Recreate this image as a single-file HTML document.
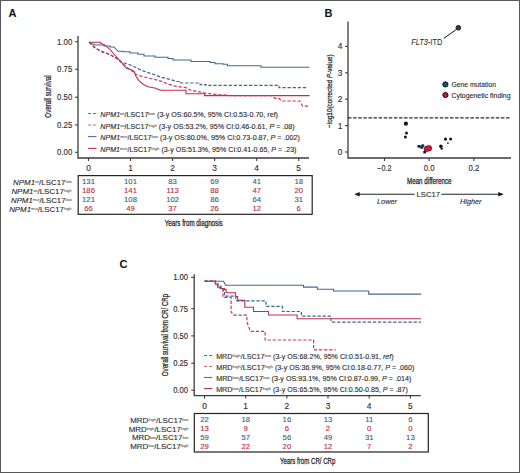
<!DOCTYPE html><html><head><meta charset="utf-8"><style>html,body{margin:0;padding:0;background:#fff;}svg{display:block;}text{font-family:"Liberation Sans",sans-serif;}</style></head><body>
<svg width="520" height="473" viewBox="0 0 520 473">
<rect x="0" y="0" width="520" height="473" fill="#fff"/>
<rect x="0.5" y="0.5" width="519" height="472" fill="none" stroke="#585858" stroke-width="1"/>
<text x="8.6" y="17" font-size="11" font-weight="bold" fill="#111">A</text>
<text x="324.6" y="17" font-size="11" font-weight="bold" fill="#111">B</text>
<text x="119.6" y="268" font-size="11" font-weight="bold" fill="#111">C</text>
<path d="M78,36 V158 H309" fill="none" stroke="#3d3d3d" stroke-width="1.3"/>
<path d="M75,41.7 H78" stroke="#3d3d3d" stroke-width="1.1"/>
<text x="72.3" y="44.6" font-size="8.4" fill="#2b2b2b" stroke="#2b2b2b" stroke-width="0.12" text-anchor="end" textLength="15.2" lengthAdjust="spacingAndGlyphs">1.00</text>
<path d="M75,69.3 H78" stroke="#3d3d3d" stroke-width="1.1"/>
<text x="72.3" y="72.2" font-size="8.4" fill="#2b2b2b" stroke="#2b2b2b" stroke-width="0.12" text-anchor="end" textLength="15.2" lengthAdjust="spacingAndGlyphs">0.75</text>
<path d="M75,97.2 H78" stroke="#3d3d3d" stroke-width="1.1"/>
<text x="72.3" y="100.1" font-size="8.4" fill="#2b2b2b" stroke="#2b2b2b" stroke-width="0.12" text-anchor="end" textLength="15.2" lengthAdjust="spacingAndGlyphs">0.50</text>
<path d="M75,124.9 H78" stroke="#3d3d3d" stroke-width="1.1"/>
<text x="72.3" y="127.8" font-size="8.4" fill="#2b2b2b" stroke="#2b2b2b" stroke-width="0.12" text-anchor="end" textLength="15.2" lengthAdjust="spacingAndGlyphs">0.25</text>
<path d="M75,152.3 H78" stroke="#3d3d3d" stroke-width="1.1"/>
<text x="72.3" y="155.2" font-size="8.4" fill="#2b2b2b" stroke="#2b2b2b" stroke-width="0.12" text-anchor="end" textLength="15.2" lengthAdjust="spacingAndGlyphs">0.00</text>
<path d="M88.5,158 V161" stroke="#3d3d3d" stroke-width="1.1"/>
<text x="88.5" y="171.1" font-size="8.4" fill="#2b2b2b" stroke="#2b2b2b" stroke-width="0.12" text-anchor="middle">0</text>
<path d="M130.5,158 V161" stroke="#3d3d3d" stroke-width="1.1"/>
<text x="130.5" y="171.1" font-size="8.4" fill="#2b2b2b" stroke="#2b2b2b" stroke-width="0.12" text-anchor="middle">1</text>
<path d="M172.6,158 V161" stroke="#3d3d3d" stroke-width="1.1"/>
<text x="172.6" y="171.1" font-size="8.4" fill="#2b2b2b" stroke="#2b2b2b" stroke-width="0.12" text-anchor="middle">2</text>
<path d="M214.6,158 V161" stroke="#3d3d3d" stroke-width="1.1"/>
<text x="214.6" y="171.1" font-size="8.4" fill="#2b2b2b" stroke="#2b2b2b" stroke-width="0.12" text-anchor="middle">3</text>
<path d="M256.7,158 V161" stroke="#3d3d3d" stroke-width="1.1"/>
<text x="256.7" y="171.1" font-size="8.4" fill="#2b2b2b" stroke="#2b2b2b" stroke-width="0.12" text-anchor="middle">4</text>
<path d="M298.7,158 V161" stroke="#3d3d3d" stroke-width="1.1"/>
<text x="298.7" y="171.1" font-size="8.4" fill="#2b2b2b" stroke="#2b2b2b" stroke-width="0.12" text-anchor="middle">5</text>
<text transform="translate(51.1,96.5) rotate(-90)" x="0" y="0" font-size="8.4" fill="#2b2b2b" stroke="#2b2b2b" stroke-width="0.28" text-anchor="middle" textLength="42.3" lengthAdjust="spacingAndGlyphs">Overall survival</text>
<path d="M89,42.2 L95,45 H104 V46 H110 V47 H114 L118,51.3 H123 V51.8 H130 V53 H138 V54.3 H144 V56 H155 V57.2 H168 V58.5 H173 V60 H191 V61.5 H210 V62.5 H215 V63.8 H223 V64.3 H227.5 V65.7 H261 V67.2 H309.6" fill="none" stroke="#416a94" stroke-width="1.1"/>
<path d="M89,42.2 H100.4 V43 L105,45.2 L109.6,49.1 L115.8,56 L121.9,62.9 L126.5,68.3 L131.2,69.8 L134.2,71.4 L135.8,76 L138.8,80.6 L143.5,84.5 L148.1,86.8 L155.8,88.3 L158.8,89.8 H160 V90.3 H186 V93.8 H204.6 V95.6 H309.6" fill="none" stroke="#c42c4c" stroke-width="1.1"/>
<path d="M89,42.2 L94.2,47.5 L100.4,50.6 L108,53.7 L115.8,57.5 L121.9,62.2 L126.5,63.7 L131,65.2 L138.8,69.1 L146.5,72.2 L154.2,74.5 L160,76.9 L169.2,79.2 L176.9,81.5 H181 V83 H200 V84.6 H206 V85.4 H279 V87.7 H308" fill="none" stroke="#3d6696" stroke-width="1.2" stroke-dasharray="3.3,1.8"/>
<path d="M89,42.2 L94.2,46.8 L100.4,51.4 L111.2,55.2 L117.3,59 L121.9,62.9 L128,68.3 L132.7,71.4 L135.8,74.5 L143.5,76.8 L152.7,79.1 L160,80.8 L167.7,83.8 L175.4,86.2 L186,87.7 L190.8,90.2 L201.5,92.3 L206,93.3 L218.5,94.6 L232,95.6 H272 L275,98.3 H279 L281.5,101 H299.6 L301.5,104 L302.7,106.2 H309.6" fill="none" stroke="#c4385a" stroke-width="1.2" stroke-dasharray="3.3,1.8"/>
<path d="M88,113.5 H96.5" stroke="#56789c" stroke-width="1.1" stroke-dasharray="3.2,1.8"/>
<text x="100.3" y="116.9" font-size="7.1" fill="#2b2b2b" stroke="#2b2b2b" stroke-width="0.12" textLength="177.7" lengthAdjust="spacingAndGlyphs"><tspan font-style="italic">NPM1</tspan><tspan font-size="4.4" dy="-2.0" stroke-width="0">wt</tspan><tspan dy="2.0">/LSC17</tspan><tspan font-size="4.4" dy="-2.0" stroke-width="0">low</tspan><tspan dy="2.0"> (3-y OS:60.5%, 95% CI:0.53-0.70, ref)</tspan></text>
<path d="M88,125.0 H96.5" stroke="#cc6a80" stroke-width="1.1" stroke-dasharray="3.2,1.8"/>
<text x="100.3" y="128.5" font-size="7.1" fill="#2b2b2b" stroke="#2b2b2b" stroke-width="0.12" textLength="194.4" lengthAdjust="spacingAndGlyphs"><tspan font-style="italic">NPM1</tspan><tspan font-size="4.4" dy="-2.0" stroke-width="0">wt</tspan><tspan dy="2.0">/LSC17</tspan><tspan font-size="4.4" dy="-2.0" stroke-width="0">high</tspan><tspan dy="2.0"> (3-y OS:53.2%, 95% CI:0.46-0.61, <tspan font-style="italic">P</tspan> = .08)</tspan></text>
<path d="M88,136.6 H96.5" stroke="#4c74a0" stroke-width="1.1"/>
<text x="100.3" y="140.3" font-size="7.1" fill="#2b2b2b" stroke="#2b2b2b" stroke-width="0.12" textLength="199.5" lengthAdjust="spacingAndGlyphs"><tspan font-style="italic">NPM1</tspan><tspan font-size="4.4" dy="-2.0" stroke-width="0">mut</tspan><tspan dy="2.0">/LSC17</tspan><tspan font-size="4.4" dy="-2.0" stroke-width="0">low</tspan><tspan dy="2.0"> (3-y OS:80.0%, 95% CI:0.73-0.87, <tspan font-style="italic">P</tspan> = .002)</tspan></text>
<path d="M88,148.4 H96.5" stroke="#bc3458" stroke-width="1.1"/>
<text x="100.3" y="151.8" font-size="7.1" fill="#2b2b2b" stroke="#2b2b2b" stroke-width="0.12" textLength="196.2" lengthAdjust="spacingAndGlyphs"><tspan font-style="italic">NPM1</tspan><tspan font-size="4.4" dy="-2.0" stroke-width="0">mut</tspan><tspan dy="2.0">/LSC17</tspan><tspan font-size="4.4" dy="-2.0" stroke-width="0">high</tspan><tspan dy="2.0"> (3-y OS:51.3%, 95% CI:0.41-0.65, <tspan font-style="italic">P</tspan> = .23)</tspan></text>
<rect x="78.2" y="175.6" width="234" height="38.7" fill="none" stroke="#222" stroke-width="1.2"/>
<text x="88.5" y="183.9" font-size="7.7" fill="#2f5f8e" stroke="#2f5f8e" stroke-width="0.12" text-anchor="middle">131</text>
<text x="130.5" y="183.9" font-size="7.7" fill="#2f5f8e" stroke="#2f5f8e" stroke-width="0.12" text-anchor="middle">101</text>
<text x="172.6" y="183.9" font-size="7.7" fill="#2f5f8e" stroke="#2f5f8e" stroke-width="0.12" text-anchor="middle">83</text>
<text x="214.6" y="183.9" font-size="7.7" fill="#2f5f8e" stroke="#2f5f8e" stroke-width="0.12" text-anchor="middle">69</text>
<text x="256.7" y="183.9" font-size="7.7" fill="#2f5f8e" stroke="#2f5f8e" stroke-width="0.12" text-anchor="middle">41</text>
<text x="298.7" y="183.9" font-size="7.7" fill="#2f5f8e" stroke="#2f5f8e" stroke-width="0.12" text-anchor="middle">18</text>
<text x="71.6" y="185.20" font-size="7.8" fill="#2b2b2b" stroke="#2b2b2b" stroke-width="0.12" text-anchor="end" textLength="58.5" lengthAdjust="spacingAndGlyphs"><tspan font-style="italic">NPM1</tspan><tspan font-size="4.0" dy="-1.9" stroke-width="0">wt</tspan><tspan dy="1.9">/LSC17</tspan><tspan font-size="4.0" dy="-1.9" stroke-width="0">low</tspan><tspan dy="1.9"></tspan></text>
<text x="88.5" y="192.9" font-size="7.7" fill="#b82c46" stroke="#b82c46" stroke-width="0.12" text-anchor="middle">186</text>
<text x="130.5" y="192.9" font-size="7.7" fill="#b82c46" stroke="#b82c46" stroke-width="0.12" text-anchor="middle">141</text>
<text x="172.6" y="192.9" font-size="7.7" fill="#b82c46" stroke="#b82c46" stroke-width="0.12" text-anchor="middle">113</text>
<text x="214.6" y="192.9" font-size="7.7" fill="#b82c46" stroke="#b82c46" stroke-width="0.12" text-anchor="middle">88</text>
<text x="256.7" y="192.9" font-size="7.7" fill="#b82c46" stroke="#b82c46" stroke-width="0.12" text-anchor="middle">47</text>
<text x="298.7" y="192.9" font-size="7.7" fill="#b82c46" stroke="#b82c46" stroke-width="0.12" text-anchor="middle">20</text>
<text x="71.6" y="194.20" font-size="7.8" fill="#2b2b2b" stroke="#2b2b2b" stroke-width="0.12" text-anchor="end" textLength="60.2" lengthAdjust="spacingAndGlyphs"><tspan font-style="italic">NPM1</tspan><tspan font-size="4.0" dy="-1.9" stroke-width="0">wt</tspan><tspan dy="1.9">/LSC17</tspan><tspan font-size="4.0" dy="-1.9" stroke-width="0">high</tspan><tspan dy="1.9"></tspan></text>
<text x="88.5" y="201.9" font-size="7.7" fill="#2f5f8e" stroke="#2f5f8e" stroke-width="0.12" text-anchor="middle">121</text>
<text x="130.5" y="201.9" font-size="7.7" fill="#2f5f8e" stroke="#2f5f8e" stroke-width="0.12" text-anchor="middle">108</text>
<text x="172.6" y="201.9" font-size="7.7" fill="#2f5f8e" stroke="#2f5f8e" stroke-width="0.12" text-anchor="middle">102</text>
<text x="214.6" y="201.9" font-size="7.7" fill="#2f5f8e" stroke="#2f5f8e" stroke-width="0.12" text-anchor="middle">86</text>
<text x="256.7" y="201.9" font-size="7.7" fill="#2f5f8e" stroke="#2f5f8e" stroke-width="0.12" text-anchor="middle">64</text>
<text x="298.7" y="201.9" font-size="7.7" fill="#2f5f8e" stroke="#2f5f8e" stroke-width="0.12" text-anchor="middle">31</text>
<text x="71.6" y="203.20" font-size="7.8" fill="#2b2b2b" stroke="#2b2b2b" stroke-width="0.12" text-anchor="end" textLength="60.6" lengthAdjust="spacingAndGlyphs"><tspan font-style="italic">NPM1</tspan><tspan font-size="4.0" dy="-1.9" stroke-width="0">mut</tspan><tspan dy="1.9">/LSC17</tspan><tspan font-size="4.0" dy="-1.9" stroke-width="0">low</tspan><tspan dy="1.9"></tspan></text>
<text x="88.5" y="210.9" font-size="7.7" fill="#b82c46" stroke="#b82c46" stroke-width="0.12" text-anchor="middle">66</text>
<text x="130.5" y="210.9" font-size="7.7" fill="#b82c46" stroke="#b82c46" stroke-width="0.12" text-anchor="middle">49</text>
<text x="172.6" y="210.9" font-size="7.7" fill="#b82c46" stroke="#b82c46" stroke-width="0.12" text-anchor="middle">37</text>
<text x="214.6" y="210.9" font-size="7.7" fill="#b82c46" stroke="#b82c46" stroke-width="0.12" text-anchor="middle">26</text>
<text x="256.7" y="210.9" font-size="7.7" fill="#b82c46" stroke="#b82c46" stroke-width="0.12" text-anchor="middle">12</text>
<text x="298.7" y="210.9" font-size="7.7" fill="#b82c46" stroke="#b82c46" stroke-width="0.12" text-anchor="middle">6</text>
<text x="71.6" y="212.20" font-size="7.8" fill="#2b2b2b" stroke="#2b2b2b" stroke-width="0.12" text-anchor="end" textLength="62.4" lengthAdjust="spacingAndGlyphs"><tspan font-style="italic">NPM1</tspan><tspan font-size="4.0" dy="-1.9" stroke-width="0">mut</tspan><tspan dy="1.9">/LSC17</tspan><tspan font-size="4.0" dy="-1.9" stroke-width="0">high</tspan><tspan dy="1.9"></tspan></text>
<text x="164.7" y="225.6" font-size="9.1" fill="#2b2b2b" stroke="#2b2b2b" stroke-width="0.3" textLength="58" lengthAdjust="spacingAndGlyphs">Years from diagnosis</text>
<path d="M348,21.5 V158 H511" fill="none" stroke="#3d3d3d" stroke-width="1.3"/>
<path d="M345,152.0 H348" stroke="#3d3d3d" stroke-width="1.1"/>
<text x="342.3" y="154.9" font-size="8.4" fill="#2b2b2b" stroke="#2b2b2b" stroke-width="0.12" text-anchor="end">0</text>
<path d="M345,125.6 H348" stroke="#3d3d3d" stroke-width="1.1"/>
<text x="342.3" y="128.5" font-size="8.4" fill="#2b2b2b" stroke="#2b2b2b" stroke-width="0.12" text-anchor="end">1</text>
<path d="M345,99.2 H348" stroke="#3d3d3d" stroke-width="1.1"/>
<text x="342.3" y="102.1" font-size="8.4" fill="#2b2b2b" stroke="#2b2b2b" stroke-width="0.12" text-anchor="end">2</text>
<path d="M345,72.8 H348" stroke="#3d3d3d" stroke-width="1.1"/>
<text x="342.3" y="75.7" font-size="8.4" fill="#2b2b2b" stroke="#2b2b2b" stroke-width="0.12" text-anchor="end">3</text>
<path d="M345,46.4 H348" stroke="#3d3d3d" stroke-width="1.1"/>
<text x="342.3" y="49.3" font-size="8.4" fill="#2b2b2b" stroke="#2b2b2b" stroke-width="0.12" text-anchor="end">4</text>
<path d="M384.5,158 V161" stroke="#3d3d3d" stroke-width="1.1"/>
<text x="384.4" y="170.9" font-size="8.4" fill="#2b2b2b" stroke="#2b2b2b" stroke-width="0.12" text-anchor="middle" textLength="14.2" lengthAdjust="spacingAndGlyphs">−0.2</text>
<path d="M429.2,158 V161" stroke="#3d3d3d" stroke-width="1.1"/>
<text x="429.2" y="170.9" font-size="8.4" fill="#2b2b2b" stroke="#2b2b2b" stroke-width="0.12" text-anchor="middle" textLength="10.8" lengthAdjust="spacingAndGlyphs">0.0</text>
<path d="M473.9,158 V161" stroke="#3d3d3d" stroke-width="1.1"/>
<text x="473.9" y="170.9" font-size="8.4" fill="#2b2b2b" stroke="#2b2b2b" stroke-width="0.12" text-anchor="middle" textLength="10.8" lengthAdjust="spacingAndGlyphs">0.2</text>
<path d="M348,117.8 H511" stroke="#2a2a2a" stroke-width="1.3" stroke-dasharray="3.5,1.6"/>
<text transform="translate(332.4,91.1) rotate(-90)" font-size="8" fill="#2b2b2b" stroke="#2b2b2b" stroke-width="0.28" text-anchor="middle" textLength="73.5" lengthAdjust="spacingAndGlyphs">−log10(corrected <tspan font-style="italic">P</tspan>-value)</text>
<text x="407" y="183.8" font-size="9.1" fill="#2b2b2b" stroke="#2b2b2b" stroke-width="0.3" textLength="44.5" lengthAdjust="spacingAndGlyphs">Mean difference</text>
<path d="M356,194.3 H414.6 M441.5,194.3 H501.5" stroke="#222" stroke-width="1.1"/>
<path d="M354.2,194.3 L359.7,192.1 L359.7,196.5 Z M503.8,194.3 L498.3,192.1 L498.3,196.5 Z" fill="#1a1a1a"/>
<text x="416.5" y="197" font-size="8" fill="#2b2b2b" stroke="#2b2b2b" stroke-width="0.12" textLength="23.5" lengthAdjust="spacingAndGlyphs">LSC17</text>
<text x="377" y="204.1" font-size="7.5" font-style="italic" fill="#2b2b2b" stroke="#2b2b2b" stroke-width="0.12" textLength="20" lengthAdjust="spacingAndGlyphs">Lower</text>
<text x="460" y="204.1" font-size="7.5" font-style="italic" fill="#2b2b2b" stroke="#2b2b2b" stroke-width="0.12" textLength="21.5" lengthAdjust="spacingAndGlyphs">Higher</text>
<path d="M456.2,29.6 L443.8,38.4" stroke="#111" stroke-width="1"/>
<circle cx="458.3" cy="27.8" r="2.3" fill="#2c4458" stroke="#0c141c" stroke-width="1"/>
<text x="411.3" y="44.6" font-size="8.3" fill="#2b2b2b" stroke="#2b2b2b" stroke-width="0.05" textLength="31" lengthAdjust="spacingAndGlyphs"><tspan font-style="italic">FLT3</tspan>-ITD</text>
<circle cx="445.4" cy="84.4" r="2.6" fill="#1f5568" stroke="#0a161c" stroke-width="1"/>
<circle cx="445.4" cy="95.0" r="2.6" fill="#b81c3a" stroke="#3a0810" stroke-width="1"/>
<text x="451.4" y="87.2" font-size="7.3" fill="#2b2b2b" stroke="#2b2b2b" stroke-width="0.12" textLength="44.6" lengthAdjust="spacingAndGlyphs">Gene mutation</text>
<text x="451.4" y="97.5" font-size="7.3" fill="#2b2b2b" stroke="#2b2b2b" stroke-width="0.12" textLength="59.2" lengthAdjust="spacingAndGlyphs">Cytogenetic finding</text>
<circle cx="405.9" cy="123.7" r="2.1" fill="#14171c"/>
<circle cx="406.5" cy="133.0" r="1.5" fill="#14171c"/>
<circle cx="405.4" cy="137.1" r="1.5" fill="#14171c"/>
<circle cx="418.9" cy="146.3" r="1.5" fill="#141a26"/>
<circle cx="421.7" cy="147.0" r="1.9" fill="#1c3352"/>
<circle cx="422.8" cy="145.4" r="1.5" fill="#1c3352"/>
<circle cx="424.7" cy="152.0" r="1.6" fill="#121418"/>
<circle cx="440.9" cy="146.3" r="1.8" fill="#121418"/>
<circle cx="441.7" cy="148.6" r="1.2" fill="#121418"/>
<circle cx="445.5" cy="139.1" r="1.6" fill="#121418"/>
<circle cx="450.6" cy="139.1" r="1.5" fill="#121418"/>
<circle cx="447.9" cy="143.1" r="0.9" fill="#121418"/>
<circle cx="426.9" cy="148.7" r="2.7" fill="#d0163a" stroke="#4a0a14" stroke-width="0.7"/>
<circle cx="429.0" cy="148.3" r="2.7" fill="#d0163a" stroke="#4a0a14" stroke-width="0.7"/>
<circle cx="427.9" cy="148.5" r="2.2" fill="#d4163c"/>
<path d="M194.2,274.3 V395.6 H420.7" fill="none" stroke="#3d3d3d" stroke-width="1.3"/>
<path d="M191.2,277.3 H194.2" stroke="#3d3d3d" stroke-width="1.1"/>
<text x="188.1" y="280.1" font-size="8.4" fill="#2b2b2b" stroke="#2b2b2b" stroke-width="0.12" text-anchor="end" textLength="14.9" lengthAdjust="spacingAndGlyphs">1.00</text>
<path d="M191.2,308.7 H194.2" stroke="#3d3d3d" stroke-width="1.1"/>
<text x="188.1" y="311.5" font-size="8.4" fill="#2b2b2b" stroke="#2b2b2b" stroke-width="0.12" text-anchor="end" textLength="14.9" lengthAdjust="spacingAndGlyphs">0.75</text>
<path d="M191.2,335.9 H194.2" stroke="#3d3d3d" stroke-width="1.1"/>
<text x="188.1" y="338.7" font-size="8.4" fill="#2b2b2b" stroke="#2b2b2b" stroke-width="0.12" text-anchor="end" textLength="14.9" lengthAdjust="spacingAndGlyphs">0.50</text>
<path d="M191.2,363.2 H194.2" stroke="#3d3d3d" stroke-width="1.1"/>
<text x="188.1" y="366.0" font-size="8.4" fill="#2b2b2b" stroke="#2b2b2b" stroke-width="0.12" text-anchor="end" textLength="14.9" lengthAdjust="spacingAndGlyphs">0.25</text>
<path d="M191.2,390.2 H194.2" stroke="#3d3d3d" stroke-width="1.1"/>
<text x="188.1" y="393.0" font-size="8.4" fill="#2b2b2b" stroke="#2b2b2b" stroke-width="0.12" text-anchor="end" textLength="14.9" lengthAdjust="spacingAndGlyphs">0.00</text>
<path d="M204.5,395.6 V398.6" stroke="#3d3d3d" stroke-width="1.1"/>
<text x="204.5" y="408.8" font-size="8.4" fill="#2b2b2b" stroke="#2b2b2b" stroke-width="0.12" text-anchor="middle">0</text>
<path d="M245.7,395.6 V398.6" stroke="#3d3d3d" stroke-width="1.1"/>
<text x="245.7" y="408.8" font-size="8.4" fill="#2b2b2b" stroke="#2b2b2b" stroke-width="0.12" text-anchor="middle">1</text>
<path d="M286.9,395.6 V398.6" stroke="#3d3d3d" stroke-width="1.1"/>
<text x="286.9" y="408.8" font-size="8.4" fill="#2b2b2b" stroke="#2b2b2b" stroke-width="0.12" text-anchor="middle">2</text>
<path d="M328.0,395.6 V398.6" stroke="#3d3d3d" stroke-width="1.1"/>
<text x="328.0" y="408.8" font-size="8.4" fill="#2b2b2b" stroke="#2b2b2b" stroke-width="0.12" text-anchor="middle">3</text>
<path d="M369.2,395.6 V398.6" stroke="#3d3d3d" stroke-width="1.1"/>
<text x="369.2" y="408.8" font-size="8.4" fill="#2b2b2b" stroke="#2b2b2b" stroke-width="0.12" text-anchor="middle">4</text>
<path d="M410.4,395.6 V398.6" stroke="#3d3d3d" stroke-width="1.1"/>
<text x="410.4" y="408.8" font-size="8.4" fill="#2b2b2b" stroke="#2b2b2b" stroke-width="0.12" text-anchor="middle">5</text>
<text transform="translate(167.9,335.0) rotate(-90)" font-size="8.5" fill="#2b2b2b" stroke="#2b2b2b" stroke-width="0.28" text-anchor="middle" textLength="82.4" lengthAdjust="spacingAndGlyphs">Overall survival from CR/ CRp</text>
<path d="M204.6,281.2 H223.6 L225.6,285.3 H303.5 V287.1 H317.3 V289.2 H333.6 V291 H368.7 V294.1 H421.2" fill="none" stroke="#416a94" stroke-width="1.1"/>
<path d="M204.6,281.2 H215.4 V284.2 H217.7 V287.3 H220 V288.5 H224.6 V289.6 H226.2 V292.7 H235.4 V296.5 H237.7 V300.4 H244.8 V307.3 H253.5 V311.5 H268.5 V315 H297.1 V318.7 H421" fill="none" stroke="#c42c4c" stroke-width="1.1"/>
<path d="M204.6,281.2 H215.4 V283 H218 V286 H221 V288 H223 V291 H224.5 V296.2 H235.8 V300.8 H266 V306.3 H282.4 V311.5 H301.4 V316.2 H331 V322.1 H421" fill="none" stroke="#3d6696" stroke-width="1.2" stroke-dasharray="3.3,1.8"/>
<path d="M204.6,281.2 H215.4 V283 H217.5 V285.5 H220 V288 H223 V297.3 H231.1 V311.8 L233.4,315.2 H246.9 V321.8 L250.4,331.4 H265.1 V340 H313.6 V349.8 H335.6" fill="none" stroke="#c4385a" stroke-width="1.2" stroke-dasharray="3.3,1.8"/>
<path d="M204,355.5 H212.3" stroke="#56789c" stroke-width="1.1" stroke-dasharray="3.2,1.8"/>
<text x="216.2" y="358.8" font-size="7.1" fill="#2b2b2b" stroke="#2b2b2b" stroke-width="0.12" textLength="177.5" lengthAdjust="spacingAndGlyphs">MRD<tspan font-size="4.4" dy="-2.0" stroke-width="0">high</tspan><tspan dy="2.0">/LSC17</tspan><tspan font-size="4.4" dy="-2.0" stroke-width="0">low</tspan><tspan dy="2.0"> (3-y OS:68.2%, 95% CI:0.51-0.91, <tspan font-style="italic">ref</tspan>)</tspan></text>
<path d="M204,366.5 H212.3" stroke="#cc6a80" stroke-width="1.1" stroke-dasharray="3.2,1.8"/>
<text x="216.2" y="369.7" font-size="7.1" fill="#2b2b2b" stroke="#2b2b2b" stroke-width="0.12" textLength="198.2" lengthAdjust="spacingAndGlyphs">MRD<tspan font-size="4.4" dy="-2.0" stroke-width="0">high</tspan><tspan dy="2.0">/LSC17</tspan><tspan font-size="4.4" dy="-2.0" stroke-width="0">high</tspan><tspan dy="2.0"> (3-y OS:36.9%, 95% CI:0.18-0.77, <tspan font-style="italic">P</tspan> = .060)</tspan></text>
<path d="M204,377.5 H212.3" stroke="#4c74a0" stroke-width="1.1"/>
<text x="216.2" y="380.9" font-size="7.1" fill="#2b2b2b" stroke="#2b2b2b" stroke-width="0.12" textLength="195.1" lengthAdjust="spacingAndGlyphs">MRD<tspan font-size="4.4" dy="-2.0" stroke-width="0">low</tspan><tspan dy="2.0">/LSC17</tspan><tspan font-size="4.4" dy="-2.0" stroke-width="0">low</tspan><tspan dy="2.0"> (3-y OS:93.1%, 95% CI:0.87-0.99, <tspan font-style="italic">P</tspan> = .014)</tspan></text>
<path d="M204,388.5 H212.3" stroke="#bc3458" stroke-width="1.1"/>
<text x="216.2" y="391.9" font-size="7.1" fill="#2b2b2b" stroke="#2b2b2b" stroke-width="0.12" textLength="191.7" lengthAdjust="spacingAndGlyphs">MRD<tspan font-size="4.4" dy="-2.0" stroke-width="0">low</tspan><tspan dy="2.0">/LSC17</tspan><tspan font-size="4.4" dy="-2.0" stroke-width="0">high</tspan><tspan dy="2.0"> (3-y OS:65.5%, 95% CI:0.50-0.85, <tspan font-style="italic">P</tspan> = .87)</tspan></text>
<rect x="194.3" y="413.5" width="234" height="38.5" fill="none" stroke="#222" stroke-width="1.2"/>
<text x="204.5" y="421.80" font-size="7.7" fill="#2f5f8e" stroke="#2f5f8e" stroke-width="0.12" text-anchor="middle">22</text>
<text x="245.7" y="421.80" font-size="7.7" fill="#2f5f8e" stroke="#2f5f8e" stroke-width="0.12" text-anchor="middle">18</text>
<text x="286.9" y="421.80" font-size="7.7" fill="#2f5f8e" stroke="#2f5f8e" stroke-width="0.12" text-anchor="middle">16</text>
<text x="328.0" y="421.80" font-size="7.7" fill="#2f5f8e" stroke="#2f5f8e" stroke-width="0.12" text-anchor="middle">13</text>
<text x="369.2" y="421.80" font-size="7.7" fill="#2f5f8e" stroke="#2f5f8e" stroke-width="0.12" text-anchor="middle">11</text>
<text x="410.4" y="421.80" font-size="7.7" fill="#2f5f8e" stroke="#2f5f8e" stroke-width="0.12" text-anchor="middle">6</text>
<text x="188.5" y="422.6" font-size="7.8" fill="#2b2b2b" stroke="#2b2b2b" stroke-width="0.12" text-anchor="end" textLength="58.3" lengthAdjust="spacingAndGlyphs">MRD<tspan font-size="4.0" dy="-1.9" stroke-width="0">high</tspan><tspan dy="1.9">/LSC17</tspan><tspan font-size="4.0" dy="-1.9" stroke-width="0">low</tspan><tspan dy="1.9"></tspan></text>
<text x="204.5" y="430.70" font-size="7.7" fill="#b82c46" stroke="#b82c46" stroke-width="0.12" text-anchor="middle">13</text>
<text x="245.7" y="430.70" font-size="7.7" fill="#b82c46" stroke="#b82c46" stroke-width="0.12" text-anchor="middle">9</text>
<text x="286.9" y="430.70" font-size="7.7" fill="#b82c46" stroke="#b82c46" stroke-width="0.12" text-anchor="middle">6</text>
<text x="328.0" y="430.70" font-size="7.7" fill="#b82c46" stroke="#b82c46" stroke-width="0.12" text-anchor="middle">2</text>
<text x="369.2" y="430.70" font-size="7.7" fill="#b82c46" stroke="#b82c46" stroke-width="0.12" text-anchor="middle">0</text>
<text x="410.4" y="430.70" font-size="7.7" fill="#b82c46" stroke="#b82c46" stroke-width="0.12" text-anchor="middle">0</text>
<text x="188.5" y="431.5" font-size="7.8" fill="#2b2b2b" stroke="#2b2b2b" stroke-width="0.12" text-anchor="end" textLength="59.8" lengthAdjust="spacingAndGlyphs">MRD<tspan font-size="4.0" dy="-1.9" stroke-width="0">high</tspan><tspan dy="1.9">/LSC17</tspan><tspan font-size="4.0" dy="-1.9" stroke-width="0">high</tspan><tspan dy="1.9"></tspan></text>
<text x="204.5" y="439.60" font-size="7.7" fill="#2f5f8e" stroke="#2f5f8e" stroke-width="0.12" text-anchor="middle">59</text>
<text x="245.7" y="439.60" font-size="7.7" fill="#2f5f8e" stroke="#2f5f8e" stroke-width="0.12" text-anchor="middle">57</text>
<text x="286.9" y="439.60" font-size="7.7" fill="#2f5f8e" stroke="#2f5f8e" stroke-width="0.12" text-anchor="middle">56</text>
<text x="328.0" y="439.60" font-size="7.7" fill="#2f5f8e" stroke="#2f5f8e" stroke-width="0.12" text-anchor="middle">49</text>
<text x="369.2" y="439.60" font-size="7.7" fill="#2f5f8e" stroke="#2f5f8e" stroke-width="0.12" text-anchor="middle">31</text>
<text x="410.4" y="439.60" font-size="7.7" fill="#2f5f8e" stroke="#2f5f8e" stroke-width="0.12" text-anchor="middle">13</text>
<text x="188.5" y="440.4" font-size="7.8" fill="#2b2b2b" stroke="#2b2b2b" stroke-width="0.12" text-anchor="end" textLength="56.6" lengthAdjust="spacingAndGlyphs">MRD<tspan font-size="4.0" dy="-1.9" stroke-width="0">low</tspan><tspan dy="1.9">/LSC17</tspan><tspan font-size="4.0" dy="-1.9" stroke-width="0">low</tspan><tspan dy="1.9"></tspan></text>
<text x="204.5" y="448.50" font-size="7.7" fill="#b82c46" stroke="#b82c46" stroke-width="0.12" text-anchor="middle">29</text>
<text x="245.7" y="448.50" font-size="7.7" fill="#b82c46" stroke="#b82c46" stroke-width="0.12" text-anchor="middle">22</text>
<text x="286.9" y="448.50" font-size="7.7" fill="#b82c46" stroke="#b82c46" stroke-width="0.12" text-anchor="middle">20</text>
<text x="328.0" y="448.50" font-size="7.7" fill="#b82c46" stroke="#b82c46" stroke-width="0.12" text-anchor="middle">12</text>
<text x="369.2" y="448.50" font-size="7.7" fill="#b82c46" stroke="#b82c46" stroke-width="0.12" text-anchor="middle">7</text>
<text x="410.4" y="448.50" font-size="7.7" fill="#b82c46" stroke="#b82c46" stroke-width="0.12" text-anchor="middle">2</text>
<text x="188.5" y="449.3" font-size="7.8" fill="#2b2b2b" stroke="#2b2b2b" stroke-width="0.12" text-anchor="end" textLength="58.3" lengthAdjust="spacingAndGlyphs">MRD<tspan font-size="4.0" dy="-1.9" stroke-width="0">low</tspan><tspan dy="1.9">/LSC17</tspan><tspan font-size="4.0" dy="-1.9" stroke-width="0">high</tspan><tspan dy="1.9"></tspan></text>
<text x="280" y="463.6" font-size="9.1" fill="#2b2b2b" stroke="#2b2b2b" stroke-width="0.3" textLength="55.4" lengthAdjust="spacingAndGlyphs">Years from CR/ CRp</text>
</svg></body></html>
